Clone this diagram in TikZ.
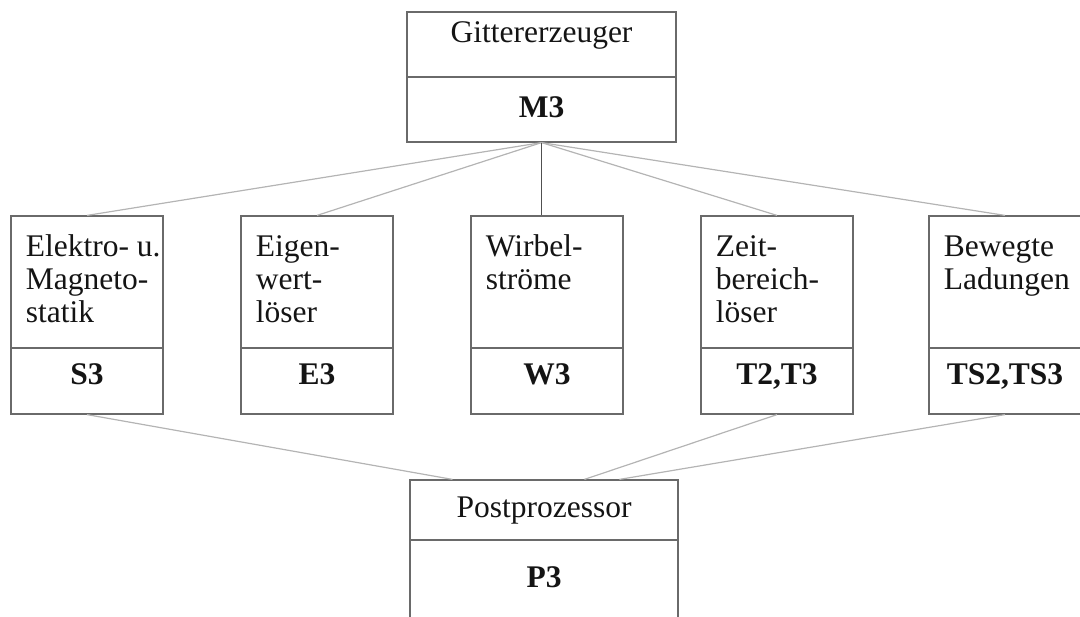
\documentclass[tikz,border=0pt]{standalone}
\usepackage{fontspec}
\setmainfont{Liberation Serif}
\usetikzlibrary{calc}
\definecolor{frame}{HTML}{6A6A6A}
\definecolor{linkgray}{HTML}{B4B4B4}
\definecolor{stem}{HTML}{505050}
\definecolor{ink}{HTML}{141414}
\begin{document}
\begin{tikzpicture}[x=0.5pt,y=-0.5pt,
  part/.style={draw=frame, line width=0.6pt, rectangle, inner sep=0pt, minimum width=76pt},
  upper/.style={part, minimum height=66pt},
  lower/.style={part, minimum height=33pt},
  wide/.style={part, minimum width=134.5pt},
  txt/.style={inner sep=0pt, text=ink, font=\fontsize{15.75pt}{16.5pt}\selectfont},
  idtxt/.style={txt, font=\fontsize{15.75pt}{16.5pt}\selectfont\bfseries},
  connector/.style={draw=linkgray, line width=0.6pt},
]
\useasboundingbox (0,0) rectangle (1080,616);
\clip (0,0) rectangle (1080,616);

% grid generator at the top
\node[wide, minimum height=32.5pt] (topu) at (541.5,44.5) {};
\node[wide, minimum height=32.5pt] (topl) at (541.5,109.5) {};
\node[txt, anchor=base] (topt) at ([yshift=-15.5pt]topu.north) {Gittererzeuger};
\node[idtxt, anchor=base] (topid) at ([yshift=-20.5pt]topl.north) {M3};

% the five solver modules
\foreach \n/\x in {elektro/87, eigen/317, wirbel/547, zeit/777, bewegt/1005}{
  \node[upper] (\n-u) at (\x,282) {};
  \node[lower] (\n-l) at (\x,381) {};
}
\newcommand{\modtext}[2]{%
  \node[txt, anchor=base west] (#1-t) at ([shift={(7.5pt,-20.5pt)}]#1-u.north west)
    {\parbox[t]{72pt}{\raggedright #2}};}
\modtext{elektro}{Elektro- u.\\Magneto-\\statik}
\modtext{eigen}{Eigen-\\wert-\\löser}
\modtext{wirbel}{Wirbel-\\ströme}
\modtext{zeit}{Zeit-\\bereich-\\löser}
\modtext{bewegt}{Bewegte\\Ladungen}
\foreach \n/\id in {elektro/S3, eigen/E3, wirbel/W3, zeit/{T2,T3}, bewegt/{TS2,TS3}}{
  \node[idtxt, anchor=base] (\n-id) at ([yshift=-18.5pt]\n-l.north) {\id};
}

% postprocessor at the bottom
\node[part, minimum width=134pt, minimum height=30pt] (postu) at (544,510) {};
\node[part, minimum width=134pt, minimum height=50pt] (postl) at (544,590) {};
\node[txt, anchor=base] (postt) at ([yshift=-19pt]postu.north) {Postprozessor};
\node[idtxt, anchor=base] (postid) at ([yshift=-24pt]postl.north) {P3};

% connectors
\draw[connector] (topl.south) -- (elektro-u.north);
\draw[connector] (topl.south) -- (eigen-u.north);
\draw[connector] (topl.south) -- (zeit-u.north);
\draw[connector] (topl.south) -- (bewegt-u.north);
\draw[draw=stem, line width=0.6pt] (topl.south) -- (topl.south |- wirbel-u.north);
\draw[connector] (elektro-l.south) -- ($(postu.north west)!0.16!(postu.north east)$);
\draw[connector] (zeit-l.south) -- ($(postu.north west)!0.65!(postu.north east)$);
\draw[connector] (bewegt-l.south) -- ($(postu.north west)!0.78!(postu.north east)$);
\end{tikzpicture}
\end{document}
